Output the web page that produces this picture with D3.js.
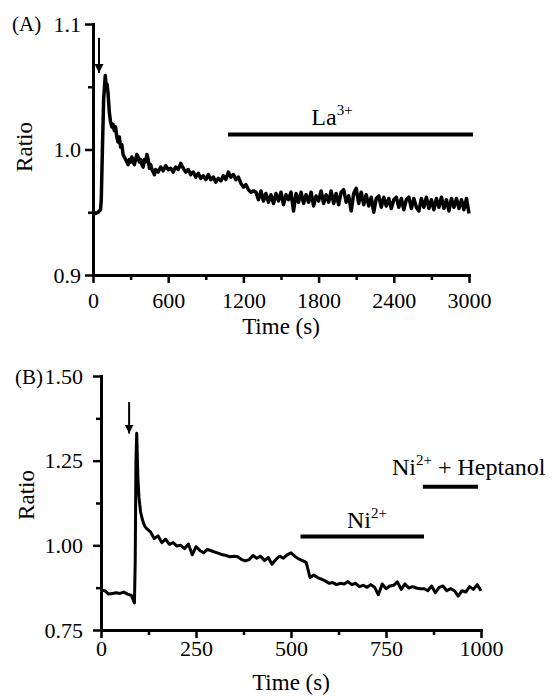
<!DOCTYPE html>
<html>
<head>
<meta charset="utf-8">
<script src="https://cdn.jsdelivr.net/npm/d3@7"></script>
<style>
  body { margin: 0; background: #fff; }
  text { font-family: "Liberation Serif", "Times New Roman", serif; fill: #000; }
</style>
</head>
<body>
<div id="chart"></div>
<script>
// panel A: La3+ experiment (time in s, ratio)
let timeA = [0, 20, 40, 60, 66, 75, 85, 98, 105, 112, 120, 130, 140, 150, 160, 170, 180, 190, 200,
  210, 220, 230, 240, 250, 260, 270, 280, 290, 300, 310, 320, 330, 340, 350, 360, 370, 380, 390, 400,
  410, 420, 430, 440, 450, 460, 470, 480, 490, 500];
let ratioA = [0.950, 0.949, 0.950, 0.952, 0.960, 1.000, 1.040, 1.059, 1.050, 1.052, 1.045, 1.030, 1.022, 1.018, 1.020, 1.015, 1.018, 1.010, 1.006,
  1.010, 1.002, 1.004, 0.996, 0.994, 0.992, 0.990, 0.988, 0.992, 0.990, 0.994, 0.990, 0.988, 0.992, 0.996, 0.994, 0.990, 0.992, 0.988, 0.986,
  0.992, 0.990, 0.996, 0.992, 0.985, 0.988, 0.984, 0.982, 0.980, 0.984];
// after 500 s, one value every 20 s
let ratioA2 = [0.982, 0.986, 0.983, 0.987, 0.984, 0.985, 0.982, 0.986, 0.984, 0.989, 0.985, 0.982, 0.984, 0.980, 0.982,
  0.978, 0.981, 0.977, 0.979, 0.976, 0.980, 0.976, 0.978, 0.974, 0.977, 0.975, 0.979, 0.976, 0.982, 0.978, 0.980,
  0.976, 0.978, 0.973, 0.970, 0.972, 0.968, 0.966, 0.967,
  0.966, 0.960, 0.967, 0.959, 0.965, 0.958, 0.964, 0.957, 0.965, 0.959,
  0.966, 0.956, 0.964, 0.960, 0.966, 0.951, 0.965, 0.958, 0.966, 0.957,
  0.964, 0.958, 0.966, 0.955, 0.963, 0.959, 0.967, 0.957, 0.964, 0.958,
  0.967, 0.957, 0.965, 0.956, 0.966, 0.968, 0.958, 0.963, 0.951, 0.965,
  0.969, 0.957, 0.966, 0.956, 0.964, 0.955, 0.962, 0.950, 0.961, 0.963,
  0.954, 0.962, 0.955, 0.961, 0.953, 0.960, 0.962, 0.954, 0.961, 0.952,
  0.960, 0.962, 0.953, 0.961, 0.954, 0.951, 0.961, 0.954, 0.962, 0.953,
  0.960, 0.952, 0.961, 0.954, 0.962, 0.953, 0.960, 0.951, 0.961, 0.954,
  0.961, 0.953, 0.960, 0.952, 0.961, 0.949];
ratioA2.forEach((v, i) => { timeA.push(520 + i * 20); ratioA.push(v); });

// panel B: Ni2+ / heptanol experiment
let timeB = [0, 10, 20, 30, 40, 50, 60, 70, 80, 85, 88, 90, 92, 94, 97, 100, 104, 108, 112, 116, 120];
let ratioB = [0.868, 0.866, 0.856, 0.858, 0.860, 0.858, 0.862, 0.856, 0.852, 0.838, 0.830, 0.950, 1.250, 1.331, 1.200,
  1.140, 1.100, 1.080, 1.065, 1.055, 1.050];
// from 130 s to 1000 s, every 10 s
let ratioB2 = [1.040, 1.020, 1.028, 1.008, 1.018, 1.003, 1.008, 0.998, 1.000, 0.990, 1.004, 0.972, 0.996, 0.985,
  0.978, 0.988, 0.984, 0.980, 0.976, 0.972, 0.970, 0.966, 0.968, 0.966, 0.958, 0.954, 0.958, 0.970, 0.962, 0.968,
  0.955, 0.964, 0.944, 0.958, 0.968, 0.962, 0.972, 0.978, 0.968, 0.960, 0.955, 0.950, 0.905, 0.912, 0.905, 0.900,
  0.895, 0.888, 0.890, 0.884, 0.888, 0.886, 0.893, 0.884, 0.888, 0.878, 0.882, 0.876, 0.884, 0.876, 0.854, 0.886,
  0.872, 0.880, 0.882, 0.892, 0.870, 0.886, 0.874, 0.878, 0.874, 0.872, 0.872, 0.866, 0.880, 0.860, 0.876, 0.880,
  0.866, 0.872, 0.866, 0.850, 0.866, 0.862, 0.878, 0.870, 0.884, 0.866];
ratioB2.forEach((v, i) => { timeB.push(130 + i * 10); ratioB.push(v); });

let ticksXA = [0, 600, 1200, 1800, 2400, 3000], minorXA = [300, 900, 1500, 2100, 2700];
let ticksYA = [0.9, 1.0, 1.1], minorYA = [0.95, 1.05];
let ticksXB = [0, 250, 500, 750, 1000], minorXB = [125, 375, 625, 875];
let ticksYB = [0.75, 1.00, 1.25, 1.50], minorYB = [0.875, 1.125, 1.375];

// treatment bars [start, end, level]
let barLa = [1077, 3032, 1.012];
let barNi = [525, 850, 1.026];
let barHep = [847, 992, 1.173];
// stimulus arrows [time, from, to]
let arrowA = [48, 1.089, 1.061];
let arrowB = [74, 1.423, 1.33];

let svg = d3.select("#chart").append("svg")
    .attr("width", 554)
    .attr("height", 697);

svg.append("defs").append("marker")
    .attr("id", "head")
    .attr("viewBox", "0 0 10 10")
    .attr("refX", 10).attr("refY", 5)
    .attr("markerWidth", 9).attr("markerHeight", 9)
    .attr("markerUnits", "userSpaceOnUse")
    .attr("orient", "auto")
    .append("path")
    .attr("d", "M0,0 L10,5 L0,10 z")
    .attr("fill", "#000");

function panel(opt){
    let x = d3.scaleLinear().domain(opt.xd).range(opt.xr);
    let y = d3.scaleLinear().domain(opt.yd).range(opt.yr);
    let g = svg.append("g");

    // minor ticks first
    g.append("g").attr("transform", `translate(0,${opt.yr[0]})`)
        .call(d3.axisBottom(x).tickValues(opt.minorX).tickSize(5).tickFormat(""))
        .call(a => a.select(".domain").remove())
        .selectAll("line").attr("stroke-width", 2.5);
    g.append("g").attr("transform", `translate(${opt.xr[0]},0)`)
        .call(d3.axisLeft(y).tickValues(opt.minorY).tickSize(5).tickFormat(""))
        .call(a => a.select(".domain").remove())
        .selectAll("line").attr("stroke-width", 2.5);

    let xa = g.append("g").attr("transform", `translate(0,${opt.yr[0]})`)
        .call(d3.axisBottom(x).tickValues(opt.ticksX).tickSize(8).tickSizeOuter(0)
            .tickPadding(opt.padX).tickFormat(d3.format("d")));
    let ya = g.append("g").attr("transform", `translate(${opt.xr[0]},0)`)
        .call(d3.axisLeft(y).tickValues(opt.ticksY).tickSize(8).tickSizeOuter(0)
            .tickPadding(opt.padY).tickFormat(d3.format(opt.fmt)));
    [xa, ya].forEach(a => {
        a.select(".domain").attr("stroke-width", 3).attr("stroke-linecap", "square");
        a.selectAll("line").attr("stroke-width", 2.5);
        a.selectAll("text").style("font-size", "22px").style("font-family", "Liberation Serif");
    });

    g.append("path")
        .datum(opt.t.map((t, i) => [t, opt.v[i]]))
        .attr("fill", "none")
        .attr("stroke", "#000")
        .attr("stroke-width", opt.lw)
        .attr("stroke-linejoin", "round")
        .attr("d", d3.line().x(d => x(d[0])).y(d => y(d[1])));

    opt.bars.forEach(b => {
        g.append("line")
            .attr("x1", x(b[0])).attr("x2", x(b[1]))
            .attr("y1", y(b[2])).attr("y2", y(b[2]))
            .attr("stroke", "#000").attr("stroke-width", 4);
    });

    g.append("line")
        .attr("x1", x(opt.arrow[0])).attr("x2", x(opt.arrow[0]))
        .attr("y1", y(opt.arrow[1])).attr("y2", y(opt.arrow[2]))
        .attr("stroke", "#000").attr("stroke-width", 2)
        .attr("marker-end", "url(#head)");

    g.append("text")
        .attr("transform", `translate(${opt.ratioX},${opt.ratioY}) rotate(-90)`)
        .attr("text-anchor", "middle")
        .style("font-size", "23px")
        .text("Ratio");
    g.append("text")
        .attr("x", (opt.xr[0] + opt.xr[1]) / 2)
        .attr("y", opt.timeY)
        .attr("text-anchor", "middle")
        .style("font-size", "23px")
        .text("Time (s)");
    g.append("text")
        .attr("x", opt.tagX).attr("y", opt.tagY)
        .style("font-size", "21px")
        .text(opt.tag);
    return {x, y, g};
}

let pa = panel({xd: [0, 3000], xr: [93, 469], yd: [0.9, 1.1], yr: [275, 24],
    ticksX: ticksXA, minorX: minorXA, ticksY: ticksYA, minorY: minorYA, fmt: ".1f",
    padX: 9, padY: 4, t: timeA, v: ratioA, lw: 3.5, bars: [barLa], arrow: arrowA,
    ratioX: 32, ratioY: 147, timeY: 334, tag: "(A)", tagX: 12, tagY: 31});

let pb = panel({xd: [0, 1000], xr: [101, 481], yd: [0.75, 1.5], yr: [630, 376],
    ticksX: ticksXB, minorX: minorXB, ticksY: ticksYB, minorY: minorYB, fmt: ".2f",
    padX: 2, padY: 10, t: timeB, v: ratioB, lw: 3, bars: [barNi, barHep], arrow: arrowB,
    ratioX: 34, ratioY: 495, timeY: 690, tag: "(B)", tagX: 15, tagY: 384});

function label(p, cx, cy, base, sup, rest, anchor){
    let t = p.g.append("text")
        .attr("x", cx).attr("y", cy)
        .attr("text-anchor", anchor)
        .style("font-size", "24px");
    t.append("tspan").text(base);
    t.append("tspan").attr("dy", -10).style("font-size", "15px").text(sup);
    if (rest) t.append("tspan").attr("dy", 10).text(rest);
}

label(pa, pa.x(1907), pa.y(barLa[2]) - 9, "La", "3+", null, "middle");
label(pb, pb.x(700), pb.y(barNi[2]) - 9, "Ni", "2+", null, "middle");
label(pb, 392, pb.y(barHep[2]) - 12, "Ni", "2+", " + Heptanol", "start");
</script>
</body>
</html>
